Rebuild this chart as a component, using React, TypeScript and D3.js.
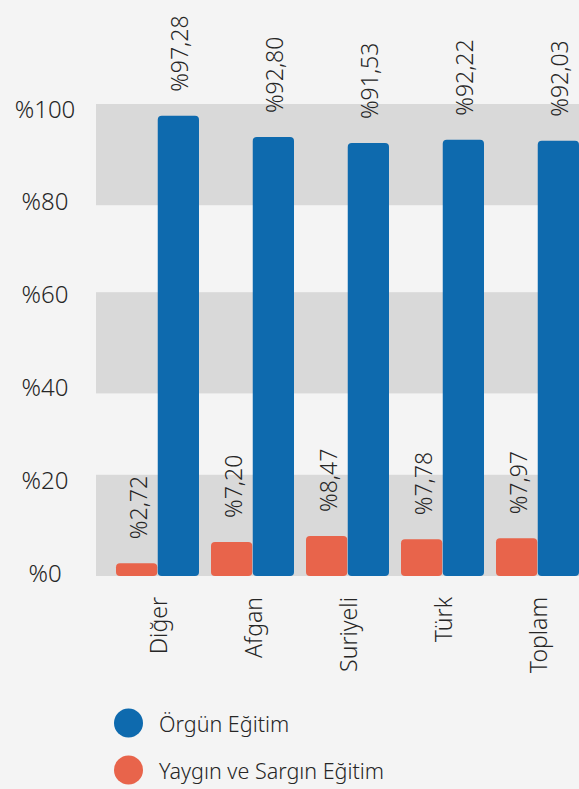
import * as d3 from "d3";

const categories = ["Diğer", "Afgan", "Suriyeli", "Türk", "Toplam"];
const orgunValues = [97.28, 92.8, 91.53, 92.22, 92.03];
const yayginValues = [2.72, 7.2, 8.47, 7.78, 7.97];
const tickValues = [0, 20, 40, 60, 80, 100];
const bandRanges = [
  [0, 20],
  [40, 60],
  [80, 100],
];
const seriesNames = ["Örgün Eğitim", "Yaygın ve Sargın Eğitim"];

const BLUE = "#0e6aae";
const ORANGE = "#e8644b";
const TEXT = "#262626";
const FONT = "'Noto Sans', sans-serif";
const WEIGHT = 300;

const fmt = (v: number) => "%" + v.toFixed(2).replace(".", ",");

export default function App() {
  const width = 579;
  const height = 789;
  const plotLeft = 96;

  const x0 = d3
    .scaleBand<string>()
    .domain(categories)
    .range([plotLeft, 599])
    .paddingInner(12 / 95)
    .paddingOuter(20 / 95);
  const x1 = d3
    .scaleBand<string>()
    .domain(["yaygin", "orgun"])
    .range([0, x0.bandwidth()])
    .paddingInner(1 / 83);
  const y = d3.scaleLinear().domain([0, 100]).range([576, 103]);
  // tick labels sit a touch inside the bar scale
  const yTick = y.copy().range([572, 108]);

  const bandH = (y(0) - y(20)) * 1.07;

  const rows = categories.map((c, i) => ({
    name: c,
    orgun: orgunValues[i],
    yaygin: yayginValues[i],
  }));

  return (
    <div style={{ position: "fixed", left: 0, top: 0 }}>
      <svg width={width} height={height} style={{ display: "block" }}>
        <rect width={width} height={height} fill="#f4f4f4" />
        {bandRanges.map(([lo, hi]) => (
          <rect
            key={lo}
            x={plotLeft}
            width={width - plotLeft}
            y={lo === 0 ? y(0) - bandH : y(hi) + (hi === 100 ? 1 : 0)}
            height={bandH}
            fill="#d9d9d9"
          />
        ))}
        {tickValues.map((t) => (
          <text
            key={t}
            x={45}
            y={yTick(t)}
            textAnchor="middle"
            dominantBaseline="central"
            fontFamily={FONT}
            fontWeight={WEIGHT}
            fontSize={24}
            fill={TEXT}
          >
            {"%" + t}
          </text>
        ))}
        {rows.map((d) => {
          const gx = x0(d.name)!;
          const bw = x1.bandwidth();
          const bars = [
            { key: "yaygin", v: d.yaygin, color: ORANGE },
            { key: "orgun", v: d.orgun, color: BLUE },
          ];
          return (
            <g key={d.name}>
              {bars.map((b) => {
                const bx = gx + x1(b.key)!;
                const cx = bx + bw / 2;
                const ly = y(b.v) - 24;
                return (
                  <g key={b.key}>
                    <rect
                      x={bx}
                      y={y(b.v)}
                      width={bw}
                      height={y(0) - y(b.v)}
                      rx={4}
                      fill={b.color}
                    />
                    <text
                      transform={`translate(${cx + 1},${ly}) rotate(-90)`}
                      textAnchor="start"
                      dominantBaseline="central"
                      fontFamily={FONT}
                      fontWeight={WEIGHT}
                      fontSize={23}
                      fill={TEXT}
                    >
                      {fmt(b.v)}
                    </text>
                  </g>
                );
              })}
              <text
                transform={`translate(${gx + x0.bandwidth() / 2},${y(0) + 21}) rotate(-90)`}
                textAnchor="end"
                dominantBaseline="central"
                fontFamily={FONT}
                fontWeight={WEIGHT}
                fontSize={23}
                fill={TEXT}
              >
                {d.name}
              </text>
            </g>
          );
        })}
        {seriesNames.map((s, i) => (
          <g key={s} transform={`translate(128.5,${723 + i * 47})`}>
            <circle r={14.5} fill={i === 0 ? BLUE : ORANGE} />
            <text
              x={30.5}
              dominantBaseline="central"
              fontFamily={FONT}
              fontWeight={WEIGHT}
              fontSize={21.5}
              fill={TEXT}
            >
              {s}
            </text>
          </g>
        ))}
      </svg>
    </div>
  );
}
